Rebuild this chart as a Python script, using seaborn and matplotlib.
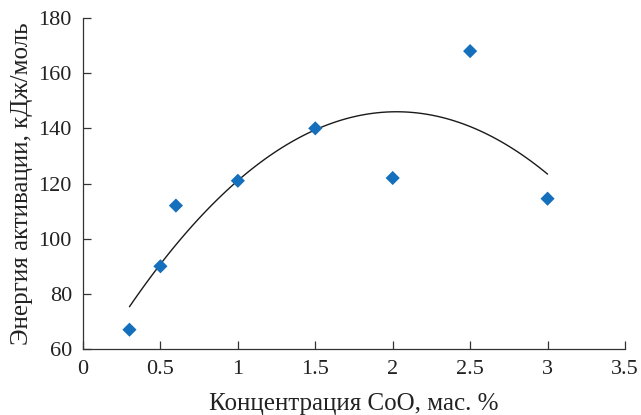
import matplotlib
matplotlib.use("Agg")
import matplotlib.pyplot as plt
import seaborn as sns
import pandas as pd

# Data
conc = [0.3, 0.5, 0.6, 1.0, 1.5, 2.0, 2.5, 3.0]
energy = [67, 90, 112, 121, 140, 122, 168, 114.5]
x_ticks = [0, 0.5, 1, 1.5, 2, 2.5, 3, 3.5]
x_tick_labels = ["0", "0.5", "1", "1.5", "2", "2.5", "3", "3.5"]
y_ticks = [60, 80, 100, 120, 140, 160, 180]

df = pd.DataFrame({"conc": conc, "energy": energy})

sns.set_style("ticks")
plt.rcParams["font.family"] = ["Liberation Serif", "DejaVu Serif"]

fig = plt.figure(figsize=(6.41, 4.15), dpi=100)
ax = fig.add_axes([0.1295, 0.159, 0.8455, 0.7976])

sns.regplot(data=df, x="conc", y="energy", order=2, ci=None, scatter=False,
            truncate=True, line_kws={"color": "#1a1a1a", "lw": 1.0}, ax=ax)
sns.scatterplot(data=df, x="conc", y="energy", marker="D", s=52,
                color="#1470BC", edgecolor="none", ax=ax, zorder=3)

ax.set_xlim(0, 3.5)
ax.set_ylim(60, 180)
ax.set_xticks(x_ticks)
ax.set_xticklabels(x_tick_labels)
ax.set_yticks(y_ticks)
ax.tick_params(direction="in", length=6, width=0.9, color="#333333",
               labelsize=16, labelcolor="#222222", pad=8)
for s in ["top", "right"]:
    ax.spines[s].set_visible(False)
for s in ["left", "bottom"]:
    ax.spines[s].set_color("#333333")
    ax.spines[s].set_linewidth(0.9)

ax.set_xlabel("Концентрация CoO, мас. %", fontsize=18, color="#222222", labelpad=10)
ax.set_ylabel("Энергия активации, кДж/моль", fontsize=18, color="#222222", labelpad=4)

fig.savefig("out.png", dpi=100)
